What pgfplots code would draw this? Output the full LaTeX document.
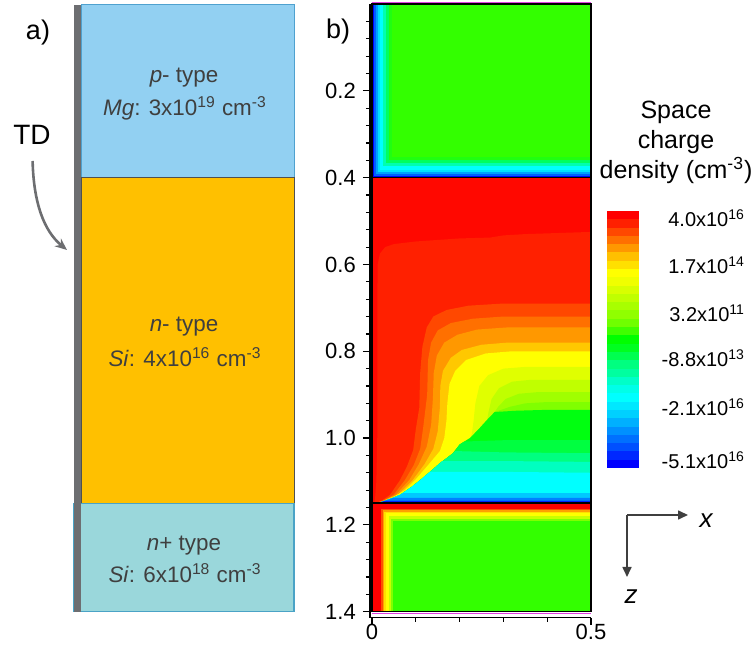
\documentclass[border=0pt]{standalone}
\usepackage{pgfplots}
\pgfplotsset{compat=1.18}
\usepackage{fontspec}
\setmainfont{Liberation Sans}
\usetikzlibrary{arrows.meta}
\newcommand\dc[1]{\definecolor{h#1}{HTML}{#1}}
\dc{0000FF}\dc{0028FF}\dc{0050FF}\dc{0070FF}\dc{0090FF}\dc{00B0FF}\dc{00D0FF}\dc{00E8FF}
\dc{00FFFF}\dc{00FFE8}\dc{00FFC8}\dc{00FFA0}\dc{00FF80}\dc{00FF50}\dc{00FF20}\dc{00FF00}
\dc{40FF00}\dc{70FF00}\dc{90FF00}\dc{A8FF00}\dc{C0FF00}\dc{D8FF00}\dc{F0FF00}\dc{FFFF00}
\dc{FFE000}\dc{FFC000}\dc{FF9800}\dc{FF7000}\dc{FF4800}\dc{FF2000}\dc{FF0000}
\dc{33FF00}\dc{FF0800}\dc{20FF10}\dc{00FF60}\dc{00FFB0}\dc{00A0FF}\dc{00E0FF}\dc{FFC800}
\dc{E0FF00}\dc{A0FF00}\dc{80FF00}\dc{00FF10}\dc{00FF40}\dc{00FFC0}\dc{00C8FF}\dc{0080FF}\dc{0020FF}
\dc{FF5000}\dc{FFA000}\dc{C8FF00}\dc{0060FF}
\definecolor{ptype}{HTML}{92D0F2}
\definecolor{pedge}{HTML}{4FA1CF}
\definecolor{ntype}{HTML}{FFC000}
\definecolor{nedge}{HTML}{505050}
\definecolor{nptype}{HTML}{9AD7DB}
\definecolor{npedge}{HTML}{4AA3C6}
\definecolor{tdgray}{HTML}{6D6E71}
\definecolor{txt}{HTML}{3F3F3F}
\definecolor{magline}{HTML}{E040E0}
\begin{document}
\begin{tikzpicture}
\useasboundingbox (0,0) rectangle (377pt,323.5pt);
% ---------------- panel a ----------------
\begin{axis}[at={(37pt,17.7pt)}, anchor=south west, width=110pt, height=303.8pt,
  scale only axis, xmin=74, xmax=294, ymin=0, ymax=1.4, y dir=reverse, hide axis, clip=false]
\addplot[fill=ptype, draw=pedge, line width=0.5pt] coordinates {(81,0.002) (294,0.002) (294,0.4) (81,0.4)} -- cycle;
\addplot[fill=ntype, draw=nedge, line width=0.5pt] coordinates {(81,0.4) (294,0.4) (294,1.15) (81,1.15)} -- cycle;
\addplot[fill=nptype, draw=npedge, line width=0.6pt] coordinates {(74,1.15) (294,1.15) (294,1.4) (74,1.4)} -- cycle;
\addplot[fill=tdgray, draw=none] coordinates {(74,0.002) (81,0.002) (81,1.4) (74,1.4)} -- cycle;
\node[text=txt, font=\fontsize{11.2}{13}\selectfont] at (axis cs:184,0.17) {\textit{p}- type};
\node[text=txt, font=\fontsize{11.2}{13}\selectfont] at (axis cs:185,0.24) {\textit{Mg}: 3x10\textsuperscript{19} cm\textsuperscript{-3}};
\node[text=txt, font=\fontsize{11.2}{13}\selectfont] at (axis cs:184,0.744) {\textit{n}- type};
\node[text=txt, font=\fontsize{11.2}{13}\selectfont] at (axis cs:185,0.813) {\textit{Si}: 4x10\textsuperscript{16} cm\textsuperscript{-3}};
\node[text=txt, font=\fontsize{11.2}{13}\selectfont] at (axis cs:184,1.247) {\textit{n}+ type};
\node[text=txt, font=\fontsize{11.2}{13}\selectfont] at (axis cs:185,1.311) {\textit{Si}: 6x10\textsuperscript{18} cm\textsuperscript{-3}};
\end{axis}
% ---------------- panel b ----------------
\begin{axis}[at={(184.9pt,14.65pt)}, anchor=south west, width=110.6pt, height=306.8pt,
  scale only axis, xmin=-0.005, xmax=0.5, ymin=0, ymax=1.414, y dir=reverse, clip=false,
  axis x line*=bottom, axis y line*=left,
  axis line style={-, black, line width=0.7pt},
  every inner x axis line/.append style={-}, every inner y axis line/.append style={-},
  xtick={0,0.5}, minor xtick={0.1,0.2,0.3,0.4},
  ytick={0.2,0.4,0.6,0.8,1.0,1.2,1.4},
  minor ytick={0.04,0.08,0.12,0.16,0.24,0.28,0.32,0.36,0.44,0.48,0.52,0.56,0.64,0.68,0.72,0.76,0.84,0.88,0.92,0.96,1.04,1.08,1.12,1.16,1.24,1.28,1.32,1.36},
  tick align=outside, major tick length=3.5pt, minor tick length=2pt,
  tick style={black, line width=0.6pt},
  /pgf/number format/assume math mode=true,
  ticklabel style={font=\fontsize{11}{13}\selectfont},
  yticklabel style={/pgf/number format/fixed, /pgf/number format/fixed zerofill, /pgf/number format/precision=1},
  xticklabel style={/pgf/number format/fixed, inner sep=0.5pt, yshift=1.2pt},
]
% p-type region
\addplot[fill=h0000FF,draw=none] coordinates {(0,0)(0.5,0)(0.5,0.4)(0,0.4)};
\addplot[fill=h0060FF,draw=none] coordinates {(0.004,0)(0.5,0)(0.5,0.396)(0.004,0.396)};
\addplot[fill=h00A0FF,draw=none] coordinates {(0.008,0)(0.5,0)(0.5,0.392)(0.008,0.392)};
\addplot[fill=h00E0FF,draw=none] coordinates {(0.013,0)(0.5,0)(0.5,0.387)(0.013,0.387)};
\addplot[fill=h00FFFF,draw=none] coordinates {(0.018,0)(0.5,0)(0.5,0.382)(0.018,0.382)};
\addplot[fill=h00FFB0,draw=none] coordinates {(0.026,0)(0.5,0)(0.5,0.374)(0.026,0.374)};
\addplot[fill=h00FF60,draw=none] coordinates {(0.032,0)(0.5,0)(0.5,0.367)(0.032,0.367)};
\addplot[fill=h20FF10,draw=none] coordinates {(0.039,0)(0.5,0)(0.5,0.36)(0.039,0.36)};
\addplot[fill=h33FF00,draw=none] coordinates {(0.046,0)(0.5,0)(0.5,0.353)(0.046,0.353)};
% n- region
\addplot[fill=hFF0800,draw=none] coordinates {(0,0.4)(0.5,0.4)(0.5,1.15)(0,1.15)};
\addplot[fill=hFF2000,draw=none] coordinates {(0.5,1.15)(0.5,0.525)(0.35,0.53)(0.3,0.533)(0.27,0.538)(0.2,0.54)(0.1,0.547)(0.05,0.553)(0.03,0.56)(0.018,0.575)(0.013,0.6)(0.012,0.7)(0.012,1.0)(0.01,1.1)(0.007,1.14)(0.005,1.15)};
\addplot[fill=hFF4800,draw=none] coordinates {(0.5,1.15)(0.5,0.69)(0.3,0.69)(0.22,0.695)(0.17,0.705)(0.14,0.72)(0.125,0.745)(0.115,0.79)(0.11,0.85)(0.108,0.93)(0.1,0.98)(0.094,1.028)(0.08,1.065)(0.064,1.097)(0.041,1.131)(0.02,1.146)(0.005,1.15)};
\addplot[fill=hFF7000,draw=none] coordinates {(0.5,1.15)(0.5,0.72)(0.3,0.72)(0.23,0.725)(0.18,0.735)(0.15,0.752)(0.135,0.78)(0.128,0.82)(0.126,0.9)(0.117,0.975)(0.11,1.025)(0.095,1.063)(0.075,1.097)(0.05,1.13)(0.023,1.146)(0.005,1.15)};
\addplot[fill=hFF9800,draw=none] coordinates {(0.5,1.15)(0.5,0.745)(0.31,0.745)(0.24,0.75)(0.195,0.762)(0.165,0.78)(0.148,0.81)(0.141,0.85)(0.139,0.91)(0.135,0.97)(0.125,1.02)(0.107,1.06)(0.085,1.097)(0.055,1.13)(0.023,1.146)(0.005,1.15)};
\addplot[fill=hFFC800,draw=none] coordinates {(0.5,1.15)(0.5,0.78)(0.31,0.78)(0.25,0.785)(0.205,0.797)(0.18,0.815)(0.162,0.845)(0.156,0.88)(0.155,0.93)(0.15,0.985)(0.14,1.025)(0.12,1.06)(0.093,1.097)(0.06,1.13)(0.023,1.146)(0.005,1.15)};
\addplot[fill=hFFFF00,draw=none] coordinates {(0.5,1.15)(0.5,0.80)(0.32,0.80)(0.26,0.805)(0.215,0.82)(0.19,0.845)(0.177,0.875)(0.172,0.92)(0.17,0.96)(0.165,1.0)(0.155,1.03)(0.13,1.06)(0.1,1.095)(0.075,1.12)(0.05,1.135)(0.023,1.147)(0.005,1.15)};
\addplot[fill=hE0FF00,draw=none] coordinates {(0.5,1.15)(0.5,0.836)(0.35,0.836)(0.3,0.84)(0.265,0.855)(0.245,0.88)(0.236,0.92)(0.232,0.96)(0.228,0.99)(0.224,1.0)(0.2,1.015)(0.185,1.035)(0.155,1.058)(0.13,1.08)(0.11,1.097)(0.09,1.113)(0.064,1.131)(0.045,1.139)(0.023,1.147)(0.005,1.15)};
\addplot[fill=hC0FF00,draw=none] coordinates {(0.5,1.15)(0.5,0.866)(0.36,0.866)(0.32,0.87)(0.29,0.885)(0.273,0.91)(0.266,0.94)(0.263,0.958)(0.245,0.978)(0.224,1.0)(0.2,1.015)(0.185,1.035)(0.155,1.058)(0.13,1.08)(0.11,1.097)(0.09,1.113)(0.064,1.131)(0.045,1.139)(0.023,1.147)(0.005,1.15)};
\addplot[fill=hA0FF00,draw=none] coordinates {(0.5,1.15)(0.5,0.894)(0.38,0.894)(0.335,0.898)(0.305,0.91)(0.288,0.928)(0.28,0.94)(0.263,0.958)(0.245,0.978)(0.224,1.0)(0.2,1.015)(0.185,1.035)(0.155,1.058)(0.13,1.08)(0.11,1.097)(0.09,1.113)(0.064,1.131)(0.045,1.139)(0.023,1.147)(0.005,1.15)};
\addplot[fill=h80FF00,draw=none] coordinates {(0.5,1.15)(0.5,0.917)(0.4,0.917)(0.35,0.92)(0.315,0.928)(0.295,0.935)(0.28,0.94)(0.263,0.958)(0.245,0.978)(0.224,1.0)(0.2,1.015)(0.185,1.035)(0.155,1.058)(0.13,1.08)(0.11,1.097)(0.09,1.113)(0.064,1.131)(0.045,1.139)(0.023,1.147)(0.005,1.15)};
\addplot[fill=h00FF10,draw=none] coordinates {(0.5,1.15)(0.5,0.935)(0.4,0.935)(0.33,0.937)(0.28,0.94)(0.263,0.958)(0.245,0.978)(0.224,1.0)(0.2,1.015)(0.185,1.035)(0.155,1.058)(0.13,1.08)(0.11,1.097)(0.09,1.113)(0.064,1.131)(0.045,1.139)(0.023,1.147)(0.005,1.15)};
\addplot[fill=h00FF40,draw=none] coordinates {(0.5,1.15)(0.5,1.005)(0.3,1.005)(0.211,1.008)(0.2,1.015)(0.185,1.035)(0.155,1.058)(0.13,1.08)(0.11,1.097)(0.09,1.113)(0.064,1.131)(0.045,1.139)(0.023,1.147)(0.005,1.15)};
\addplot[fill=h00FF80,draw=none] coordinates {(0.5,1.15)(0.5,1.035)(0.3,1.033)(0.19,1.03)(0.185,1.035)(0.155,1.058)(0.13,1.08)(0.11,1.097)(0.09,1.113)(0.064,1.131)(0.045,1.139)(0.023,1.147)(0.005,1.15)};
\addplot[fill=h00FFC0,draw=none] coordinates {(0.5,1.15)(0.5,1.055)(0.3,1.053)(0.16,1.053)(0.155,1.058)(0.13,1.08)(0.11,1.097)(0.09,1.113)(0.064,1.131)(0.045,1.139)(0.023,1.147)(0.005,1.15)};
\addplot[fill=h00FFFF,draw=none] coordinates {(0.5,1.15)(0.5,1.08)(0.3,1.078)(0.132,1.078)(0.11,1.097)(0.09,1.113)(0.064,1.131)(0.045,1.139)(0.023,1.147)(0.005,1.15)};
\addplot[fill=h00C8FF,draw=none] coordinates {(0.5,1.15)(0.5,1.127)(0.07,1.127)(0.064,1.131)(0.045,1.139)(0.023,1.147)(0.005,1.15)};
\addplot[fill=h0080FF,draw=none] coordinates {(0.5,1.15)(0.5,1.138)(0.047,1.138)(0.045,1.139)(0.023,1.147)(0.005,1.15)};
\addplot[fill=h0020FF,draw=none] coordinates {(0.5,1.15)(0.5,1.145)(0.028,1.145)(0.023,1.147)(0.005,1.15)};
% n+ region
\addplot[fill=hFF0000,draw=none] coordinates {(0,1.15)(0.5,1.15)(0.5,1.4)(0,1.4)};
\addplot[fill=hFF5000,draw=none] coordinates {(0.02,1.163)(0.5,1.163)(0.5,1.4)(0.02,1.4)};
\addplot[fill=hFFA000,draw=none] coordinates {(0.024,1.166)(0.5,1.166)(0.5,1.4)(0.024,1.4)};
\addplot[fill=hFFE000,draw=none] coordinates {(0.028,1.17)(0.5,1.17)(0.5,1.4)(0.028,1.4)};
\addplot[fill=hFFFF00,draw=none] coordinates {(0.031,1.173)(0.5,1.173)(0.5,1.4)(0.031,1.4)};
\addplot[fill=hC8FF00,draw=none] coordinates {(0.038,1.18)(0.5,1.18)(0.5,1.4)(0.038,1.4)};
\addplot[fill=h80FF00,draw=none] coordinates {(0.043,1.186)(0.5,1.186)(0.5,1.4)(0.043,1.4)};
\addplot[fill=h33FF00,draw=none] coordinates {(0.047,1.19)(0.5,1.19)(0.5,1.4)(0.047,1.4)};
% frame and interfaces
\draw[black, line width=0.8pt] (axis cs:0,0) rectangle (axis cs:0.5,1.4);
\draw[black, line width=0.8pt] (axis cs:0,0.4) -- (axis cs:0.5,0.4);
\draw[black, line width=0.8pt] (axis cs:0,1.15) -- (axis cs:0.5,1.15);
\draw[magline, line width=0.6pt] (axis cs:0,-0.003) -- (axis cs:0.5,-0.003);
\draw[magline, line width=0.6pt] (axis cs:0,1.404) -- (axis cs:0.5,1.404);
\end{axis}
% ---------------- colour bar ----------------
\begin{axis}[at={(303.5pt,89.5pt)}, anchor=south west, width=16pt, height=128.5pt,
  scale only axis, xmin=0, xmax=1, ymin=0, ymax=31, hide axis]
\addplot[fill=h0000FF,draw=none] coordinates {(0,0)(1,0)(1,1)(0,1)};
\addplot[fill=h0028FF,draw=none] coordinates {(0,1)(1,1)(1,2)(0,2)};
\addplot[fill=h0050FF,draw=none] coordinates {(0,2)(1,2)(1,3)(0,3)};
\addplot[fill=h0070FF,draw=none] coordinates {(0,3)(1,3)(1,4)(0,4)};
\addplot[fill=h0090FF,draw=none] coordinates {(0,4)(1,4)(1,5)(0,5)};
\addplot[fill=h00B0FF,draw=none] coordinates {(0,5)(1,5)(1,6)(0,6)};
\addplot[fill=h00D0FF,draw=none] coordinates {(0,6)(1,6)(1,7)(0,7)};
\addplot[fill=h00E8FF,draw=none] coordinates {(0,7)(1,7)(1,8)(0,8)};
\addplot[fill=h00FFFF,draw=none] coordinates {(0,8)(1,8)(1,9)(0,9)};
\addplot[fill=h00FFE8,draw=none] coordinates {(0,9)(1,9)(1,10)(0,10)};
\addplot[fill=h00FFC8,draw=none] coordinates {(0,10)(1,10)(1,11)(0,11)};
\addplot[fill=h00FFA0,draw=none] coordinates {(0,11)(1,11)(1,12)(0,12)};
\addplot[fill=h00FF80,draw=none] coordinates {(0,12)(1,12)(1,13)(0,13)};
\addplot[fill=h00FF50,draw=none] coordinates {(0,13)(1,13)(1,14)(0,14)};
\addplot[fill=h00FF20,draw=none] coordinates {(0,14)(1,14)(1,15)(0,15)};
\addplot[fill=h00FF00,draw=none] coordinates {(0,15)(1,15)(1,16)(0,16)};
\addplot[fill=h40FF00,draw=none] coordinates {(0,16)(1,16)(1,17)(0,17)};
\addplot[fill=h70FF00,draw=none] coordinates {(0,17)(1,17)(1,18)(0,18)};
\addplot[fill=h90FF00,draw=none] coordinates {(0,18)(1,18)(1,19)(0,19)};
\addplot[fill=hA8FF00,draw=none] coordinates {(0,19)(1,19)(1,20)(0,20)};
\addplot[fill=hC0FF00,draw=none] coordinates {(0,20)(1,20)(1,21)(0,21)};
\addplot[fill=hD8FF00,draw=none] coordinates {(0,21)(1,21)(1,22)(0,22)};
\addplot[fill=hF0FF00,draw=none] coordinates {(0,22)(1,22)(1,23)(0,23)};
\addplot[fill=hFFFF00,draw=none] coordinates {(0,23)(1,23)(1,24)(0,24)};
\addplot[fill=hFFE000,draw=none] coordinates {(0,24)(1,24)(1,25)(0,25)};
\addplot[fill=hFFC000,draw=none] coordinates {(0,25)(1,25)(1,26)(0,26)};
\addplot[fill=hFF9800,draw=none] coordinates {(0,26)(1,26)(1,27)(0,27)};
\addplot[fill=hFF7000,draw=none] coordinates {(0,27)(1,27)(1,28)(0,28)};
\addplot[fill=hFF4800,draw=none] coordinates {(0,28)(1,28)(1,29)(0,29)};
\addplot[fill=hFF2000,draw=none] coordinates {(0,29)(1,29)(1,30)(0,30)};
\addplot[fill=hFF0000,draw=none] coordinates {(0,30)(1,30)(1,31)(0,31)};
\end{axis}
% ---------------- annotations ----------------
\node[font=\fontsize{13.5}{16}\selectfont] at (19pt,307pt) {a)};
\node[font=\fontsize{13.5}{16}\selectfont] at (169pt,307.5pt) {b)};
\node[font=\fontsize{14}{16}\selectfont] at (16pt,256pt) {TD};
\draw[tdgray, line width=1.3pt, -{Stealth[length=6pt,width=5pt]}] (16.3pt,243pt) .. controls (16.8pt,222pt) and (22pt,208pt) .. (33.5pt,198.5pt);
\node[align=center, font=\fontsize{12.5}{15}\selectfont] at (338pt,252.5pt) {Space\\charge\\density (cm\textsuperscript{-3})};
\node[anchor=east, font=\fontsize{10}{12}\selectfont] at (376pt,214.5pt) {4.0x10\textsuperscript{16}};
\node[anchor=east, font=\fontsize{10}{12}\selectfont] at (376pt,191pt) {1.7x10\textsuperscript{14}};
\node[anchor=east, font=\fontsize{10}{12}\selectfont] at (376pt,167pt) {3.2x10\textsuperscript{11}};
\node[anchor=east, font=\fontsize{10}{12}\selectfont] at (376pt,144.5pt) {-8.8x10\textsuperscript{13}};
\node[anchor=east, font=\fontsize{10}{12}\selectfont] at (376pt,120pt) {-2.1x10\textsuperscript{16}};
\node[anchor=east, font=\fontsize{10}{12}\selectfont] at (376pt,93.5pt) {-5.1x10\textsuperscript{16}};
\draw[txt, line width=0.8pt, -{Triangle[length=5pt,width=4.5pt]}] (313.5pt,66pt) -- (344pt,66pt);
\draw[txt, line width=0.8pt, -{Triangle[length=5pt,width=4.5pt]}] (313.5pt,66pt) -- (313.5pt,35pt);
\node[font=\itshape\fontsize{13}{15}\selectfont] at (353pt,63pt) {x};
\node[font=\itshape\fontsize{13}{15}\selectfont] at (315.5pt,25pt) {z};
\end{tikzpicture}
\end{document}
